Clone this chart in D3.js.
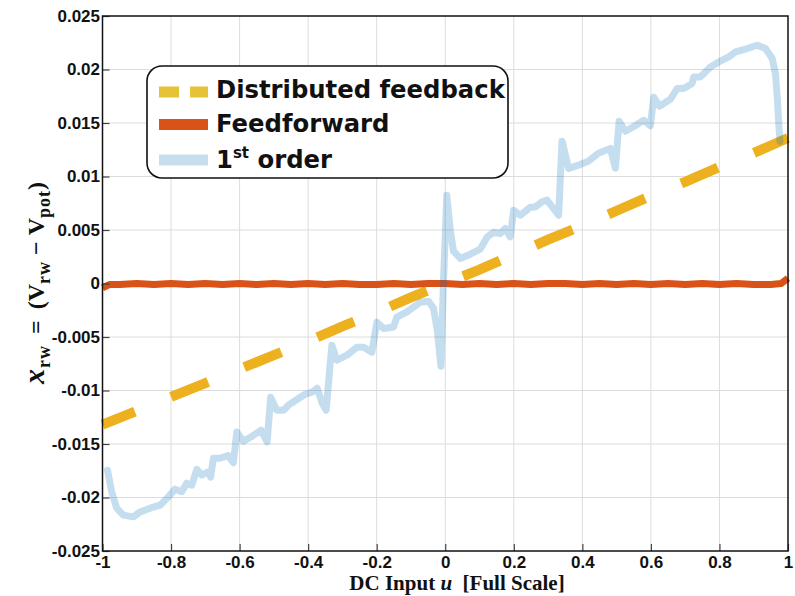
<!DOCTYPE html>
<html>
<head>
<meta charset="utf-8">
<script src="https://cdn.jsdelivr.net/npm/d3@7"></script>
<style>
  html, body { margin: 0; padding: 0; background: #fff; }
  svg { display: block; }
</style>
</head>
<body>
<svg id="chart" width="795" height="596"></svg>
<script>
// Tick values and labels
const xTicks = [-1, -0.8, -0.6, -0.4, -0.2, 0, 0.2, 0.4, 0.6, 0.8, 1];
const xTickLabels = ["-1", "-0.8", "-0.6", "-0.4", "-0.2", "0", "0.2", "0.4", "0.6", "0.8", "1"];
const yTicks = [-0.025, -0.02, -0.015, -0.01, -0.005, 0, 0.005, 0.01, 0.015, 0.02, 0.025];
const yTickLabels = ["-0.025", "-0.02", "-0.015", "-0.01", "-0.005", "0", "0.005", "0.01", "0.015", "0.02", "0.025"];

// Distributed feedback (u, x_rw)
const dfbU = [-1, -0.9, -0.8, -0.7, -0.6, -0.5, -0.4, -0.3, -0.2, -0.1, 0, 0.1, 0.2, 0.3, 0.4, 0.5, 0.6, 0.7, 0.8, 0.9, 1];
const dfbV = [-0.0132, -0.0119, -0.0106, -0.0093, -0.0080, -0.0067, -0.0054, -0.0040, -0.0027, -0.0013, 0.0000,
              0.0013, 0.0027, 0.0041, 0.0054, 0.0068, 0.0082, 0.0095, 0.0109, 0.0122, 0.0136];

// Feedforward (u, x_rw)
const ffU = [-1, -0.98, -0.95, -0.9, -0.85, -0.8, -0.75, -0.7, -0.65, -0.6, -0.55, -0.5, -0.45, -0.4, -0.35, -0.3,
             -0.25, -0.2, -0.15, -0.1, -0.05, 0, 0.05, 0.1, 0.15, 0.2, 0.25, 0.3, 0.35, 0.4, 0.45, 0.5, 0.55,
             0.6, 0.65, 0.7, 0.75, 0.8, 0.85, 0.9, 0.95, 0.98, 1];
const ffV = [-0.0004, -0.0001, -0.0001, -0.0000, -0.0001, 0.0000, -0.0001, 0.0000, -0.0001, 0.0000, -0.0001, 0.0000,
             -0.0001, 0.0000, -0.0001, 0.0000, -0.0001, -0.0001, 0.0000, -0.0001, 0.0000, 0.0000, -0.0001, 0.0000,
             -0.0001, 0.0000, -0.0001, 0.0000, 0.0000, -0.0001, 0.0000, -0.0001, 0.0000, -0.0001, 0.0000, -0.0001,
             0.0000, -0.0001, 0.0000, -0.0001, -0.0001, 0.0000, 0.0005];

// First-order loop (u, x_rw)
const foU = [-0.9854, -0.9731, -0.9585, -0.9393, -0.9101, -0.8905, -0.8613, -0.8321, -0.8079, -0.7883, -0.7688,
             -0.7542, -0.7396, -0.7250, -0.7104, -0.6911, -0.6847, -0.6765, -0.6569, -0.6336, -0.6181, -0.6082,
             -0.5889, -0.5635, -0.5372, -0.5197, -0.5095, -0.4914, -0.4721, -0.4575, -0.4283, -0.4088, -0.3883,
             -0.3737, -0.3591, -0.3474, -0.3387, -0.3308, -0.3162, -0.2870, -0.2578, -0.2385, -0.2140, -0.1994,
             -0.1801, -0.1509, -0.1410, -0.1118, -0.0730, -0.0488, -0.0342, -0.0234, -0.0126, -0.0050, 0.0044,
             0.0146, 0.0242, 0.0438, 0.0730, 0.1022, 0.1218, 0.1410, 0.1606, 0.1752, 0.1898, 0.1994, 0.2190,
             0.2482, 0.2628, 0.2823, 0.2969, 0.3308, 0.3407, 0.3600, 0.3883, 0.4175, 0.4467, 0.4818, 0.4964,
             0.5072, 0.5255, 0.5518, 0.5790, 0.5985, 0.6082, 0.6248, 0.6569, 0.6765, 0.6958, 0.7203, 0.7250,
             0.7445, 0.7737, 0.7980, 0.8272, 0.8467, 0.8809, 0.9101, 0.9343, 0.9539, 0.9635, 0.9685, 0.9731, 0.9766];
const foV = [-0.01745, -0.01948, -0.02100, -0.02165, -0.02181, -0.02135, -0.02100, -0.02072, -0.01994, -0.01922,
             -0.01946, -0.01866, -0.01885, -0.01736, -0.01792, -0.01761, -0.01810, -0.01633, -0.01633, -0.01609,
             -0.01675, -0.01387, -0.01474, -0.01427, -0.01371, -0.01480, -0.01063, -0.01184, -0.01184, -0.01137,
             -0.01075, -0.01035, -0.01016, -0.00979, -0.01119, -0.01184, -0.00857, -0.00577, -0.00717, -0.00670,
             -0.00595, -0.00595, -0.00642, -0.00362, -0.00421, -0.00406, -0.00315, -0.00265, -0.00175, -0.00165,
             -0.00231, -0.00436, -0.00773, 0.00031, 0.00825, 0.00498, 0.00302, 0.00234, 0.00274, 0.00321, 0.00433,
             0.00479, 0.00467, 0.00514, 0.00436, 0.00685, 0.00638, 0.00713, 0.00716, 0.00763, 0.00779, 0.00638,
             0.01330, 0.01075, 0.01106, 0.01143, 0.01218, 0.01262, 0.01078, 0.01517, 0.01423, 0.01470, 0.01526,
             0.01475, 0.01741, 0.01657, 0.01722, 0.01822, 0.01822, 0.01869, 0.01931, 0.01931, 0.02024, 0.02071,
             0.02118, 0.02164, 0.02196, 0.02227, 0.02196, 0.02103, 0.01963, 0.01744, 0.01495, 0.01330];

const colors = {
  dfb: "#EDB120",
  dfbLegend: "#E6C236",
  ff: "#D95319",
  fo: "rgba(0,114,189,0.23)"
};

const svg = d3.select("#chart");
const plot = { left: 102.5, right: 788, top: 16, bottom: 551 };

const x = d3.scaleLinear().domain([-1, 1]).range([plot.left, plot.right]);
const y = d3.scaleLinear().domain([-0.025, 0.025]).range([plot.bottom, plot.top]);

// Grid
const grid = svg.append("g").attr("stroke", "#dcdcdc").attr("stroke-width", 1);
grid.selectAll(".gx").data(xTicks.slice(1, -1)).join("line")
  .attr("x1", d => x(d)).attr("x2", d => x(d))
  .attr("y1", plot.top).attr("y2", plot.bottom);
grid.selectAll(".gy").data(yTicks.slice(1, -1)).join("line")
  .attr("x1", plot.left).attr("x2", plot.right)
  .attr("y1", d => y(d)).attr("y2", d => y(d));

// Series
const toPts = (us, vs) => us.map((u, i) => [u, vs[i]]);
const line = d3.line().x(d => x(d[0])).y(d => y(d[1]));

svg.append("path")
  .attr("d", line(toPts(dfbU, dfbV)))
  .attr("fill", "none")
  .attr("stroke", colors.dfb)
  .attr("stroke-width", 10)
  .attr("stroke-dasharray", "40 39")
  .attr("stroke-dashoffset", 5);

svg.append("path")
  .attr("d", line(toPts(ffU, ffV)))
  .attr("fill", "none")
  .attr("stroke", colors.ff)
  .attr("stroke-width", 7)
  .attr("stroke-linejoin", "round");

svg.append("path")
  .attr("d", line(toPts(foU, foV)))
  .attr("fill", "none")
  .attr("stroke", colors.fo)
  .attr("stroke-width", 7)
  .attr("stroke-linejoin", "round")
  .attr("stroke-linecap", "round");

// Axes
const xAxis = d3.axisBottom(x).tickValues(xTicks).tickSize(-7).tickPadding(5)
  .tickFormat((d, i) => xTickLabels[i]);
const yAxis = d3.axisLeft(y).tickValues(yTicks).tickSize(-7).tickPadding(2.5)
  .tickFormat((d, i) => yTickLabels[i]);

const gx = svg.append("g").attr("transform", `translate(0,${plot.bottom})`).call(xAxis);
const gy = svg.append("g").attr("transform", `translate(${plot.left},0)`).call(yAxis);
[gx, gy].forEach(g => {
  g.select(".domain").remove();
  g.selectAll(".tick line").attr("stroke", "#444").attr("stroke-width", 1.2);
  g.selectAll(".tick text")
    .attr("fill", "#111")
    .style("font-family", "'Liberation Sans', Arial, sans-serif")
    .style("font-weight", "bold")
    .style("font-size", "17px");
});
gy.selectAll(".tick text").attr("dy", "0.3em");

// Frame
svg.append("rect")
  .attr("x", plot.left).attr("y", plot.top)
  .attr("width", plot.right - plot.left).attr("height", plot.bottom - plot.top)
  .attr("fill", "none").attr("stroke", "#111").attr("stroke-width", 1.5);

// Axis titles
const serif = "'Liberation Serif', 'Times New Roman', serif";
const xt = svg.append("text")
  .attr("x", 457).attr("y", 590)
  .attr("text-anchor", "middle")
  .style("font-family", serif).style("font-weight", "bold").style("font-size", "21px")
  .attr("fill", "#111");
xt.append("tspan").text("DC Input ");
xt.append("tspan").style("font-style", "italic").text("u");
xt.append("tspan").text("\u00a0 [Full Scale]");

const yt = svg.append("text")
  .attr("transform", "translate(44,283) rotate(-90)")
  .attr("text-anchor", "middle")
  .style("font-family", serif).style("font-weight", "bold").style("font-size", "24px")
  .attr("fill", "#111");
yt.append("tspan").style("font-style", "italic").style("font-size", "30px").text("x");
yt.append("tspan").attr("dx", 1).attr("dy", 6).style("font-size", "18px").style("letter-spacing", "1px").text("rw");
yt.append("tspan").attr("dx", 11).attr("dy", -6).text("=");
yt.append("tspan").attr("dx", 11).text("(");
yt.append("tspan").text("V");
yt.append("tspan").attr("dy", 6).style("font-size", "18px").style("letter-spacing", "1px").text("rw");
yt.append("tspan").attr("dx", 6).attr("dy", -6).text("\u2212");
yt.append("tspan").attr("dx", 6).text("V");
yt.append("tspan").attr("dy", 6).style("font-size", "18px").style("letter-spacing", "1px").text("pot");
yt.append("tspan").attr("dy", -6).text(")");

// Legend
const legend = svg.append("g");
legend.append("rect")
  .attr("x", 147).attr("y", 66).attr("width", 361).attr("height", 112).attr("rx", 15)
  .attr("fill", "#fff").attr("stroke", "#111").attr("stroke-width", 1.6);

const legendItems = [
  { key: "dfb", label: "Distributed feedback", color: colors.dfbLegend, dash: "20 11", cy: 92, base: 98 },
  { key: "ff", label: "Feedforward", color: colors.ff, dash: null, cy: 124.5, base: 132 },
  { key: "fo", label: "1st order", color: "#C6DEEE", dash: null, cy: 160, base: 168 }
];
const legendFont = "'DejaVu Sans', Verdana, sans-serif";
legendItems.forEach(it => {
  legend.append("line")
    .attr("x1", 159).attr("x2", 208).attr("y1", it.cy).attr("y2", it.cy)
    .attr("stroke", it.color).attr("stroke-width", 11)
    .attr("stroke-dasharray", it.dash);
  const t = legend.append("text")
    .attr("x", 216).attr("y", it.base)
    .style("font-family", legendFont).style("font-weight", "bold").style("font-size", "24.3px")
    .attr("fill", "#111");
  if (it.key === "fo") {
    t.append("tspan").text("1");
    t.append("tspan").attr("dy", -10).style("font-size", "15px").text("st");
    t.append("tspan").attr("dy", 10).text(" order");
  } else {
    t.text(it.label);
  }
});
</script>
</body>
</html>
